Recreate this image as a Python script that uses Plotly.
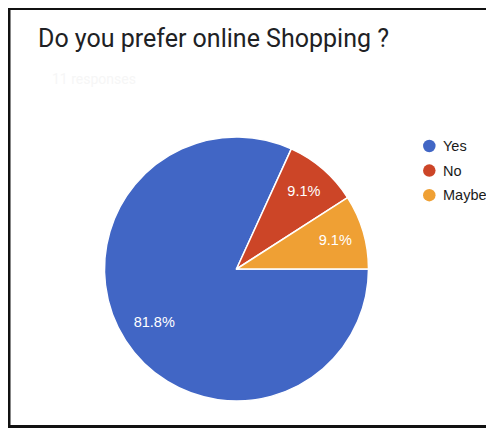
import plotly.graph_objects as go

title_text = "Do you prefer online Shopping ?"
subtitle_text = "11 responses"
labels = ["Yes", "No", "Maybe"]
values = [9, 1, 1]
colors = ["#4166c5", "#cc4527", "#efa034"]

# page has an 8px body margin; figure coordinates = page coordinates - 8
OFF = 8
W, H = 486, 421
cx, cy, R = 236.5 - OFF, 269 - OFF, 132


def fx(x):
    return x / W


def fy(y):
    return 1 - y / H


pie_domain = dict(x=[fx(cx - R), fx(cx + R)], y=[fy(cy + R), fy(cy - R)])

fig = go.Figure()
# filled pie (no text)
fig.add_trace(go.Pie(
    labels=labels, values=values, sort=False, direction="clockwise", rotation=90,
    marker=dict(colors=colors, line=dict(color="white", width=1.5)),
    textinfo="none", showlegend=False, hoverinfo="label+percent",
    domain=pie_domain,
))
# transparent ring carrying the percentage labels at ~0.74 R
fig.add_trace(go.Pie(
    labels=labels, values=values, sort=False, direction="clockwise", rotation=90,
    hole=0.48,
    marker=dict(colors=["rgba(0,0,0,0)"] * len(labels), line=dict(width=0)),
    texttemplate="%{percent:.1%}", textposition="inside",
    insidetextorientation="horizontal",
    textfont=dict(family="Liberation Sans, Arial", size=14.5, color="white"),
    showlegend=False, hoverinfo="skip",
    domain=pie_domain,
))

# custom legend (circle markers + labels)
leg_x, leg_y0, leg_dy = 429.3 - OFF, 146 - OFF, 24.6
fig.add_trace(go.Scatter(
    x=[leg_x] * len(labels), y=[leg_y0 + i * leg_dy for i in range(len(labels))],
    mode="markers", marker=dict(symbol="circle", size=12.5, color=colors, line=dict(width=0)),
    showlegend=False, hoverinfo="skip", cliponaxis=False,
))
annotations = [
    dict(text=lab, x=440.5 - OFF, y=leg_y0 + i * leg_dy, xref="x", yref="y",
         xanchor="left", yanchor="middle", showarrow=False,
         font=dict(family="Liberation Sans, Arial", size=14.5, color="#1a1a1a"))
    for i, lab in enumerate(labels)
]
annotations.append(dict(text=subtitle_text, x=fx(50 - OFF), y=fy(79 - OFF), xref="paper", yref="paper",
                        xanchor="left", yanchor="middle", showarrow=False,
                        font=dict(family="Roboto", size=14, color="#f6f6f6")))

fig.update_layout(
    width=W, height=H, margin=dict(l=0, r=0, t=0, b=0),
    paper_bgcolor="white", plot_bgcolor="rgba(0,0,0,0)",
    xaxis=dict(visible=False, range=[0, W], domain=[0, 1], fixedrange=True),
    yaxis=dict(visible=False, range=[H, 0], domain=[0, 1], fixedrange=True),
    showlegend=False,
    title=dict(text=title_text, x=fx(38 - OFF), xanchor="left", xref="paper",
               y=fy(38.5 - OFF), yanchor="middle", yref="paper",
               font=dict(family="Roboto", size=25, color="#202124")),
    annotations=annotations,
    shapes=[dict(type="rect", xref="paper", yref="paper", x0=fx(1.0), x1=1.05,
                 y0=fy(426.5 - OFF), y1=fy(0.5), line=dict(color="#111111", width=3),
                 layer="above")],
)
fig.write_html("out.html")
